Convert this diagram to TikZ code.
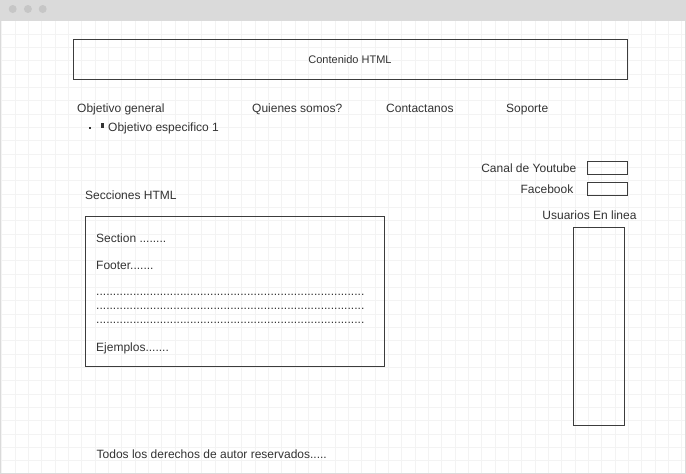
\documentclass[tikz,border=0pt]{standalone}
\usepackage{fontspec}
\setmainfont{Liberation Sans}
\usetikzlibrary{positioning}
\definecolor{txtgray}{HTML}{333333}
\definecolor{linegray}{HTML}{3C3C3C}
\definecolor{gridgray}{HTML}{F3F3F3}
\definecolor{bargray}{HTML}{DADADA}
\definecolor{dotgray}{HTML}{C6C6C6}

\begin{document}
\begin{tikzpicture}
  [x=1pt,y=-1pt,
   txt/.style={text=txtgray,font=\fontsize{12}{14}\selectfont,inner sep=0pt},
   frame/.style={draw=linegray,line width=0.9pt,inner sep=0pt}]
  \useasboundingbox (0,0) rectangle (686,474);

  % window with grid
  \fill[white] (0,0) rectangle (686,474);
  \begin{scope}
    \clip (0,20.5) rectangle (686,474);
    \foreach \i in {0,...,52}
      \draw[gridgray,line width=0.7pt] ({1.67+\i*13.333},20) -- ({1.67+\i*13.333},474);
    \foreach \j in {0,...,34}
      \draw[gridgray,line width=0.7pt] (0,{20.7+\j*13.333}) -- (686,{20.7+\j*13.333});
  \end{scope}
  \fill[bargray] (0,0) rectangle (686,20.5);
  \foreach \dx in {12.7,27.9,42.7}
    \fill[dotgray] (\dx,9) circle (4);
  \draw[bargray,line width=1pt] (0.5,0) -- (0.5,473.5) -- (685,473.5) -- (685,0);

  % header
  \node[frame,minimum width=554pt,minimum height=39.5pt] (contenido) at (350,59.5)
    {\color{txtgray}\fontsize{11}{13}\selectfont Contenido HTML};

  % menu
  \node[txt,anchor=base west] (objgen) at (77,112) {Objetivo general};
  \node[txt,anchor=base west] (quienes) at (252,112) {Quienes somos?};
  \node[txt,anchor=base west] (contacto) at (386,112) {Contactanos};
  \node[txt,anchor=base west] (soporte) at (506,112) {Soporte};

  \fill[txtgray] (89.2,126.5) rectangle (91.2,128.5);
  \fill[txtgray] (100.5,122.5) rectangle (103.5,128.3);
  \node[txt,anchor=base west] (objesp) at (108,131.3) {Objetivo especifico 1};

  % social
  \node[txt,anchor=base east] (youtube) at (576.5,172) {Canal de Youtube};
  \node[frame,minimum width=40pt,minimum height=12.6pt] (ytbox) at (607.3,168) {};
  \node[txt,anchor=base east] (facebook) at (573.5,193) {Facebook};
  \node[frame,minimum width=40pt,minimum height=12.3pt] (fbbox) at (607.3,188.8) {};

  \node[txt,anchor=base east] (usuarios) at (636.7,219.5) {Usuarios En linea};
  \node[frame,minimum width=51pt,minimum height=197.5pt] (usrbox) at (598.5,326.5) {};

  % secciones
  \node[txt,anchor=base west] (secciones) at (85,199.5) {Secciones HTML};
  \node[frame,minimum width=299pt,minimum height=150pt] (secbox) at (234.5,291.5) {};
  \node[txt,anchor=base west] (section) at (96,242.3) {Section ........};
  \node[txt,anchor=base west] (footer) at (96,269.3) {Footer.......};
  \foreach \yy/\nm in {295.5/rowa,309.5/rowb,323/rowc}
    \node[txt,anchor=base west] (\nm) at (96,\yy)
      {\resizebox{268pt}{!}{................................................................................}};
  \node[txt,anchor=base west] (ejemplos) at (96,351) {Ejemplos.......};

  % footer
  \node[txt,anchor=base west] (derechos) at (96.5,458.5) {Todos los derechos de autor reservados.....};
\end{tikzpicture}
\end{document}
